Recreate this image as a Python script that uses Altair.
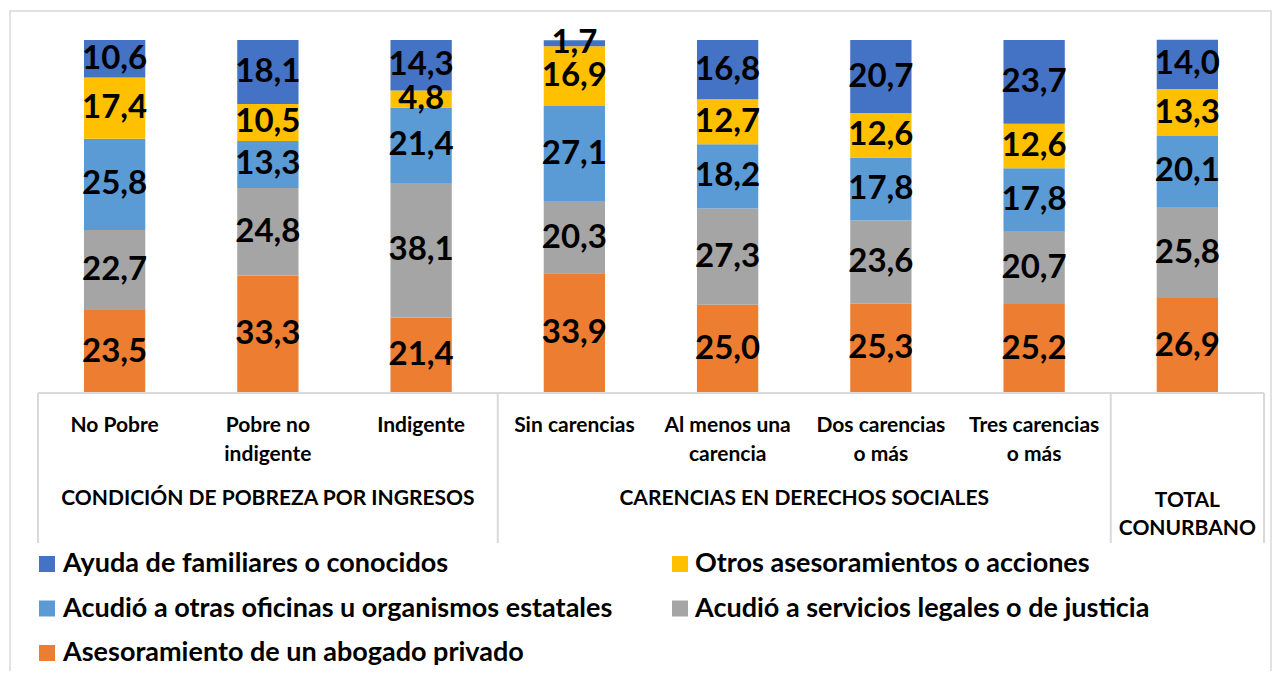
import altair as alt
import pandas as pd

categories = ["No Pobre", "Pobre no indigente", "Indigente", "Sin carencias",
              "Al menos una carencia", "Dos carencias o más", "Tres carencias o más",
              "TOTAL CONURBANO"]
tick_labels = ["No Pobre", "Pobre no\nindigente", "Indigente", "Sin carencias",
               "Al menos una\ncarencia", "Dos carencias\no más", "Tres carencias\no más", ""]

# stacked bottom -> top
series = ["Asesoramiento de un abogado privado",
          "Acudió a servicios legales o de justicia",
          "Acudió a otras oficinas u organismos estatales",
          "Otros asesoramientos o acciones",
          "Ayuda de familiares o conocidos"]
colors = ["#ED7D31", "#A5A5A5", "#5B9BD5", "#FFC000", "#4472C4"]

abogado = [23.5, 33.3, 21.4, 33.9, 25.0, 25.3, 25.2, 26.9]
servicios = [22.7, 24.8, 38.1, 20.3, 27.3, 23.6, 20.7, 25.8]
oficinas = [25.8, 13.3, 21.4, 27.1, 18.2, 17.8, 17.8, 20.1]
otros = [17.4, 10.5, 4.8, 16.9, 12.7, 12.6, 12.6, 13.3]
ayuda = [10.6, 18.1, 14.3, 1.7, 16.8, 20.7, 23.7, 14.0]

legend_order = ["Ayuda de familiares o conocidos",
                "Otros asesoramientos o acciones",
                "Acudió a otras oficinas u organismos estatales",
                "Acudió a servicios legales o de justicia",
                "Asesoramiento de un abogado privado"]

groups = ["CONDICIÓN DE POBREZA POR INGRESOS", "CARENCIAS EN DERECHOS SOCIALES", "TOTAL\nCONURBANO"]
group_sizes = [3, 4, 1]

FONT = "Lato"
W, H = 1226, 353
STEP = W / len(categories)
AX_FS = 21

rows = []
for si, (s, vals) in enumerate(zip(series, [abogado, servicios, oficinas, otros, ayuda])):
    for c, v in zip(categories, vals):
        rows.append({"cat": c, "serie": s, "ord": si, "value": v,
                     "label": f"{v:.1f}".replace(".", ",")})
df = pd.DataFrame(rows)

xscale = alt.Scale(domain=categories, paddingInner=0.6, paddingOuter=0.3)
cscale = alt.Scale(domain=series, range=colors)
x_enc = alt.X("cat:N", scale=xscale, axis=None, sort=categories)

base = alt.Chart(df)
bars = base.mark_bar().encode(
    x=x_enc,
    y=alt.Y("value:Q", stack="zero", scale=alt.Scale(domain=[0, 100]), axis=None),
    color=alt.Color("serie:N", scale=cscale, legend=None),
    order=alt.Order("ord:Q", sort="ascending"),
)

labels = base.transform_stack(
    stack="value", groupby=["cat"], as_=["y0", "y1"],
    sort=[alt.SortField("ord", order="ascending")]
).transform_calculate(mid="(datum.y0 + datum.y1) / 2").mark_text(
    font=FONT, fontSize=33, fontWeight="bold", color="black", baseline="middle"
).encode(
    x=x_enc,
    y=alt.Y("mid:Q", scale=alt.Scale(domain=[0, 100]), axis=None),
    text="label:N",
)

tick_df = pd.DataFrame({"cat": categories, "tl": tick_labels})
ticks = alt.Chart(tick_df).mark_text(
    font=FONT, fontSize=AX_FS, fontWeight="bold", color="black",
    baseline="top", lineBreak="\n", lineHeight=29
).encode(x=x_enc, y=alt.value(H + 22), text="tl:N")

# group boundaries (in bands)
bounds = [0]
for n in group_sizes:
    bounds.append(bounds[-1] + n)

line_color = "#D9D9D9"
layers_extra = []
for i, g in enumerate(groups):
    cx = (bounds[i] + bounds[i + 1]) / 2 * STEP
    two = "\n" in g
    layers_extra.append(
        alt.Chart(pd.DataFrame({"g": [g]})).mark_text(
            font=FONT, fontSize=AX_FS, fontWeight="bold", color="black",
            baseline="top" if two else "middle", lineBreak="\n", lineHeight=28
        ).encode(x=alt.value(cx), y=alt.value(H + 97 if two else H + 106), text="g:N")
    )
for b in bounds:
    layers_extra.append(
        alt.Chart(pd.DataFrame({"a": [0]})).mark_rule(color=line_color, strokeWidth=2).encode(
            x=alt.value(b * STEP), y=alt.value(H), y2=alt.value(H + 150))
    )

hline = alt.Chart(pd.DataFrame({"a": [0]})).mark_rule(color=line_color, strokeWidth=2).encode(
    x=alt.value(0), x2=alt.value(W), y=alt.value(H))
border = alt.Chart(pd.DataFrame({"a": [0]})).mark_rect(
    fill=None, stroke="#D9D9D9", strokeWidth=1.5).encode(
    x=alt.value(-28), x2=alt.value(W + 7), y=alt.value(-29), y2=alt.value(H + 300))

# manual legend (2 columns, row-major)
leg = pd.DataFrame({"serie": legend_order})
leg["col"] = [i % 2 for i in range(len(legend_order))]
leg["row"] = [i // 2 for i in range(len(legend_order))]
leg["sx"] = 9 + leg["col"] * 633
leg["tx"] = 25 + leg["col"] * 632
leg["ly"] = H + 171 + leg["row"] * 44.5
leg_sym = alt.Chart(leg).mark_square(size=256, opacity=1).encode(
    x=alt.X("sx:Q", scale=None, axis=None),
    y=alt.Y("ly:Q", scale=None, axis=None),
    color=alt.Color("serie:N", scale=cscale, legend=None))
leg_txt = alt.Chart(leg).mark_text(
    font=FONT, fontSize=27, fontWeight="bold", color="black", align="left", baseline="middle"
).encode(
    x=alt.X("tx:Q", scale=None, axis=None),
    y=alt.Y("ly:Q", scale=None, axis=None),
    text="serie:N")

chart = alt.layer(border, bars, labels, hline, ticks, *layers_extra,
                  leg_sym, leg_txt).properties(
    width=W, height=H,
    autosize=alt.AutoSizeParams(type="none"),
    padding={"left": 30, "top": 32, "right": 8, "bottom": 278},
).configure_view(stroke=None).resolve_scale(y="independent")

chart.save("out.html", embed_options={"renderer": "svg", "actions": False})
